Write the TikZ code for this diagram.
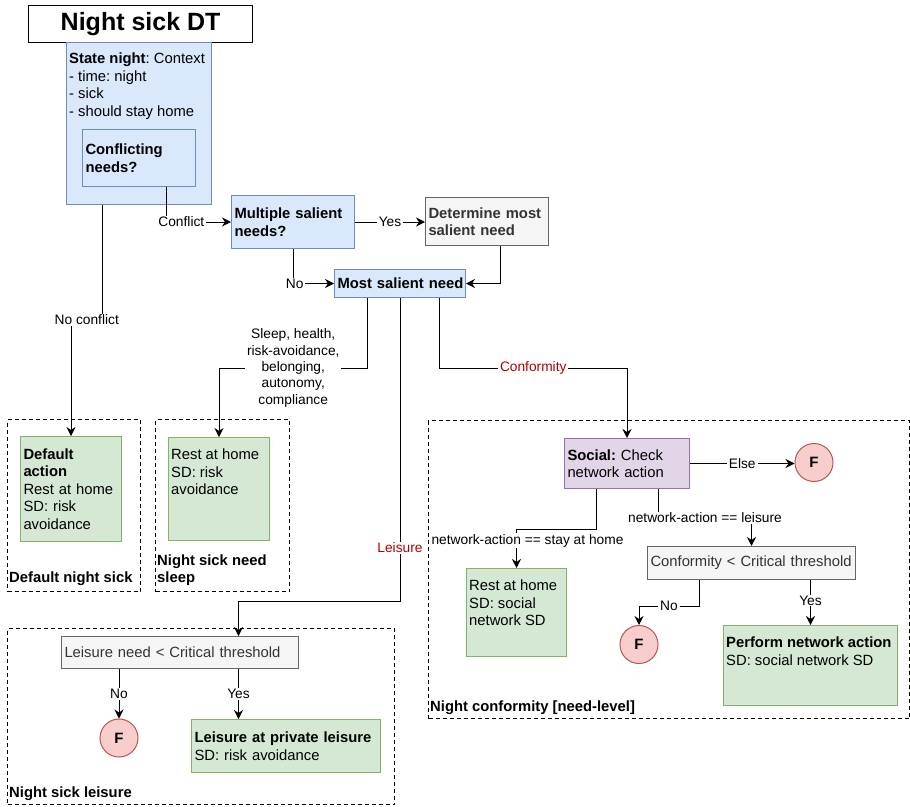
\documentclass[tikz,border=0pt]{standalone}
\usepackage{fontspec}
\setmainfont{Liberation Sans}
\usetikzlibrary{arrows.meta, positioning}

\definecolor{blufill}{HTML}{DAE8FC}
\definecolor{bluline}{HTML}{6C8EBF}
\definecolor{gryfill}{HTML}{F5F5F5}
\definecolor{gryline}{HTML}{666666}
\definecolor{grytext}{HTML}{333333}
\definecolor{grnfill}{HTML}{D5E8D4}
\definecolor{grnline}{HTML}{82B366}
\definecolor{purfill}{HTML}{E1D5E7}
\definecolor{purline}{HTML}{9673A6}
\definecolor{redfill}{HTML}{F8CECC}
\definecolor{redline}{HTML}{B85450}
\definecolor{redtxt}{HTML}{B20000}

\begin{document}
\begin{tikzpicture}[x=1pt, y=-1pt,
           > = {Stealth[length=9pt, width=9pt, inset=3pt]},
every node/.style = {font=\fontsize{14.8}{17.5}\selectfont\frenchspacing, inner sep=0pt},
   box/.style = {draw, rectangle, anchor=north west, align=left,
                 inner xsep=3pt, line width=1pt},
  need/.style = {box, fill=blufill, draw=bluline},
  grey/.style = {box, fill=gryfill, draw=gryline, text=grytext},
   act/.style = {box, fill=grnfill, draw=grnline},
   soc/.style = {box, fill=purfill, draw=purline},
  fail/.style = {circle, draw=redline, fill=redfill, line width=1pt,
                 minimum size=38pt, font=\fontsize{15}{17.5}\selectfont\bfseries},
 group/.style = {draw, rectangle, anchor=north west, line width=1pt,
                 dash pattern=on 4pt off 3pt},
gtitle/.style = {anchor=south west, align=left,
                 font=\fontsize{14.8}{17.5}\selectfont\bfseries},
  toptxt/.style = {anchor=north west, align=left, xshift=3pt, yshift=-11pt},
   lbl/.style = {fill=white, inner xsep=2pt, inner ysep=1pt, align=center,
                 font=\fontsize{13.75}{16.3}\selectfont\frenchspacing},
  link/.style = {->, line width=1pt}
                        ]
\useasboundingbox (0,0) rectangle (910,806);
% dashed groups
\node[group, minimum width=133pt, minimum height=172pt] (gdef)   at (7,419) {};
\node[group, minimum width=134pt, minimum height=172pt] (gsleep) at (155,419) {};
\node[group, minimum width=387pt, minimum height=176pt] (gleis)  at (7,628) {};
\node[group, minimum width=481pt, minimum height=298pt] (gconf)  at (428,420) {};
\node[gtitle, xshift=2pt, yshift=6pt] (tdef) at (gdef.south west) {Default night sick};
\node[gtitle, xshift=2pt, yshift=6pt] (tsleep) at (gsleep.south west) {Night sick need\\sleep};
\node[gtitle, xshift=2pt, yshift=4pt] (tleis) at (gleis.south west) {Night sick leisure};
\node[gtitle, xshift=2pt, yshift=4pt] (tconf) at (gconf.south west) {Night conformity [need-level]};
% title and context
\node[draw, anchor=north west, line width=1.2pt, minimum width=224pt, minimum height=37pt,
      font=\fontsize{25}{30}\selectfont\bfseries] (title) at (28,5) {Night sick DT};
\node[need, minimum width=145pt, minimum height=162pt,
      label={[toptxt]north west:\textbf{State night}: Context\\- time: night\\- sick\\- should stay home}]
      (state) at (66,42) {};
\node[need, text width=107pt, minimum height=57pt] (conf) at (82,129) {\textbf{Conflicting}\\\textbf{needs?}\\[-3pt]};
% salience
\node[need, text width=117pt, minimum height=53pt] (multi) at (231,195) {\textbf{Multiple salient}\\\textbf{needs?}};
\node[grey, text width=117pt, minimum height=48pt] (det) at (425,197) {\textbf{Determine most}\\\textbf{salient need}};
\node[need, text width=125pt, minimum height=28pt] (most) at (334,269) {\mbox{\textbf{Most salient need}}};
% actions
\node[act, text width=95pt, minimum height=105pt] (dact) at (20,436)
      {\textbf{Default}\\\textbf{action}\\Rest at home\\SD: risk\\avoidance};
\node[act, minimum width=101pt, minimum height=103pt,
      label={[toptxt, yshift=-1pt]north west:Rest at home\\SD: risk\\avoidance}] (srest) at (168,437) {};
% leisure
\node[grey, text width=231pt, minimum height=32pt] (lthr) at (61,636) {\mbox{Leisure need < Critical threshold}};
\node[fail] (lfail) at (119,738) {F};
\node[act, text width=183pt, minimum height=53pt] (lpriv) at (191,719)
      {\mbox{\textbf{Leisure at private leisure}}\\SD: risk avoidance};
% conformity
\node[soc, text width=119pt, minimum height=50pt] (social) at (564,438) {\textbf{Social:} Check\\network action};
\node[fail] (sfail) at (814,462.5) {F};
\node[act, minimum width=100pt, minimum height=88pt,
      label={[toptxt, yshift=-1pt]north west:Rest at home\\SD: social\\network SD}] (nrest) at (466,568) {};
\node[grey, text width=202pt, minimum height=33pt] (cthr) at (647,546) {\mbox{Conformity < Critical threshold}};
\node[fail] (cfail) at (639,644.5) {F};
\node[act, minimum width=174pt, minimum height=80pt,
      label={[toptxt, yshift=-1pt]north west:\textbf{Perform network action}\\SD: social network SD}] (perf) at (723,625) {};
% connectors
\draw[link] ([xshift=-36.5pt]state.south) -- ++(0,115) -| node[lbl, pos=.25] {No conflict} (dact.north);
\draw[link] ([xshift=27.5pt]conf.south) |- node[lbl, pos=.615] {Conflict} (multi.west);
\draw[link] (multi.east) -- node[lbl] {Yes} (multi.east -| det.west);
\draw[link] ([xshift=13.5pt]det.south) |- (most.east);
\draw[link] (multi.south) |- node[lbl, pos=.52] {No} (most.west);
\draw[link] ([xshift=-32.5pt]most.south) -- ++(0,70) -| node[lbl, pos=.25]
      {Sleep, health,\\risk-avoidance,\\belonging,\\autonomy,\\compliance} (srest.north);
\draw[link] ([xshift=39.5pt]most.south) -- ++(0,70) -| node[lbl, pos=.25, text=redtxt] {Conformity} (social.north);
\draw[link] (most.south) -- node[lbl, pos=.825, text=redtxt] {Leisure} ++(0,303)
      -| ([xshift=58.5pt]lthr.north);
\coordinate (lyes) at ([xshift=58.5pt]lthr.south);
\draw[link] (lthr.south -| lfail.north) -- node[lbl] {No} (lfail.north);
\draw[link] (lyes) -- node[lbl] {Yes} (lyes |- lpriv.north);
\draw[link] (social.east) -- node[lbl] {Else} (social.east -| sfail.west);
\draw[link] ([xshift=-30.5pt]social.south) -- ++(0,40) -| node[lbl, pos=.65, xshift=11pt]
      {network-action == stay at home} (nrest.north);
\draw[link] ([xshift=31.5pt]social.south) -- ++(0,29) -| node[lbl, pos=.25]
      {network-action == leisure} (cthr.north);
\draw[link] ([xshift=-52.5pt]cthr.south) -- ++(0,26) -| node[lbl, pos=.25] {No} (cfail.north);
\draw[link] (cthr.south -| perf.north) -- node[lbl, yshift=2pt] {Yes} (perf.north);
\end{tikzpicture}
\end{document}
